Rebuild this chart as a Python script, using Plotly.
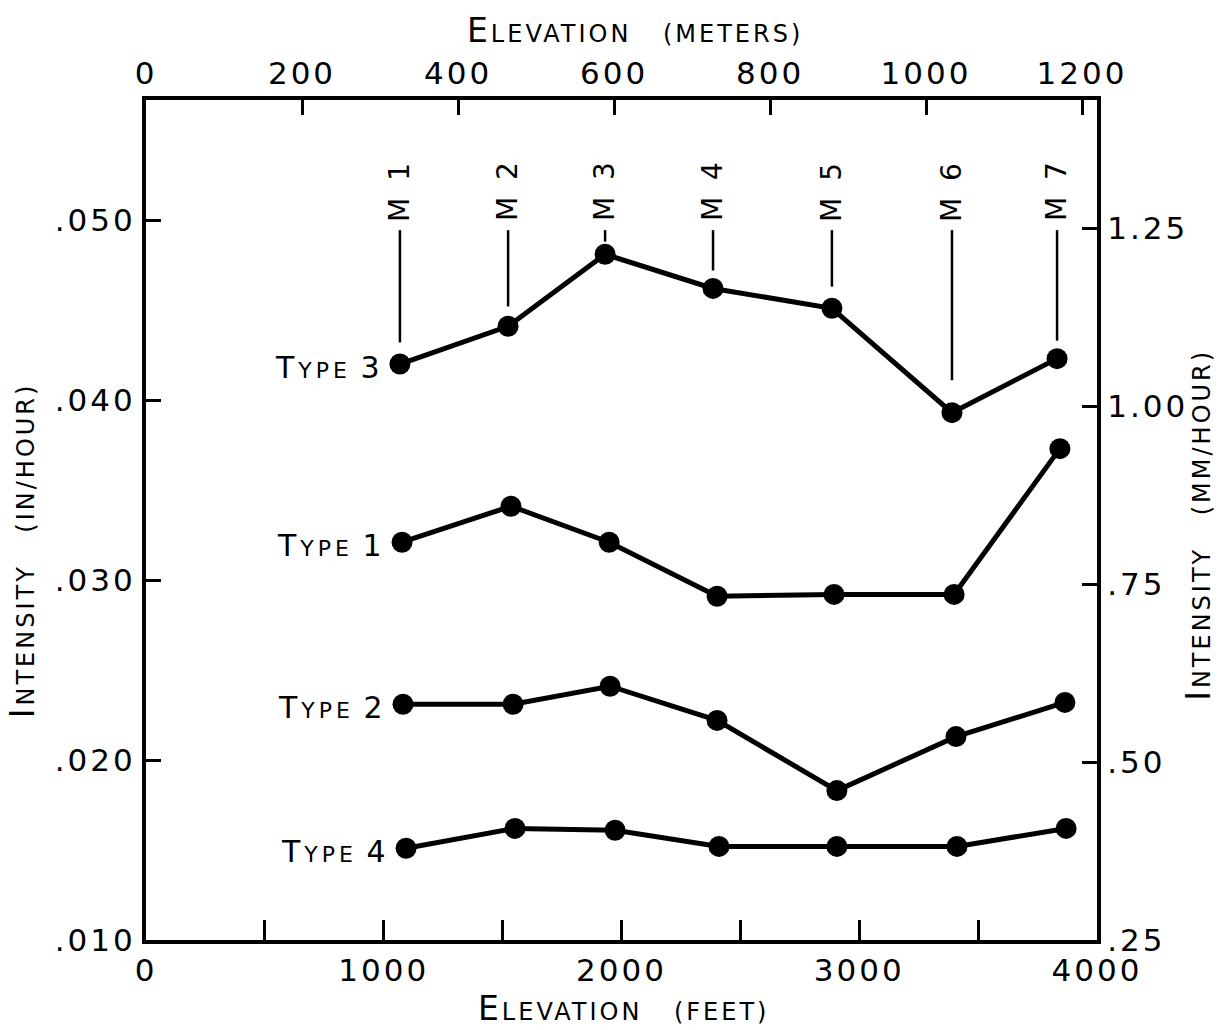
import plotly.graph_objects as go

# ---------------- data ----------------
series_names = ["Type 3", "Type 1", "Type 2", "Type 4"]

type3_ft = [1068, 1523, 1931, 2385, 2885, 3390, 3832]
type3_in = [0.0420, 0.0441, 0.0481, 0.0462, 0.0451, 0.0393, 0.0423]

type1_ft = [1077, 1535, 1948, 2402, 2894, 3399, 3844]
type1_in = [0.0321, 0.0341, 0.0321, 0.0291, 0.0292, 0.0292, 0.0373]

type2_ft = [1081, 1544, 1952, 2402, 2906, 3407, 3865]
type2_in = [0.0231, 0.0231, 0.0241, 0.0222, 0.0183, 0.0213, 0.0232]

type4_ft = [1094, 1552, 1973, 2410, 2906, 3411, 3870]
type4_in = [0.0151, 0.0162, 0.0161, 0.0152, 0.0152, 0.0152, 0.0162]

stations = ["M 1", "M 2", "M 3", "M 4", "M 5", "M 6", "M 7"]
station_ft = type3_ft
station_gap = [0.0012, 0.0011, 0.0007, 0.0010, 0.0012, 0.0018, 0.0010]

ft_ticks = [0, 500, 1000, 1500, 2000, 2500, 3000, 3500, 4000]
ft_labels = ["0", "", "1000", "", "2000", "", "3000", "", "4000"]
m_ticks = [0, 200, 400, 600, 800, 1000, 1200]
m_labels = ["0", "200", "400", "600", "800", "1000", "1200"]
in_ticks = [0.010, 0.020, 0.030, 0.040, 0.050]
in_labels = [".010", ".020", ".030", ".040", ".050"]
mm_ticks = [0.25, 0.50, 0.75, 1.00, 1.25]
mm_labels = [".25", ".50", ".75", "1.00", "1.25"]

FT_PER_M = 3.28084
X_RANGE = [0, 4000]
Y_RANGE = [0.010, 0.05667]
Y2_RANGE = [0.25, 1.43]

FONT = "DejaVu Sans"


def spaced(text, size=None, ls=3):
    st = f"letter-spacing:{ls}px"
    if size:
        st += f";font-size:{size}px"
    return f"<span style='{st}'>{text}</span>"


def small_caps(text, big, small, ls=3, gap="&#160;"):
    """Small caps: initial capital (and digits) large, the rest small."""
    out = []
    for word in text.split(" "):
        if word[0].isalpha() and word[0].isupper():
            out.append(spaced(word[0], big, ls) + spaced(word[1:].upper(), small, ls))
        elif word[0].isdigit():
            out.append(spaced(word, big, ls))
        else:
            out.append(spaced(word.upper(), small, ls))
    return gap.join(out)


def tick_text(labels, ls=3):
    return [spaced(t, None, ls) if t else "" for t in labels]


fig = go.Figure()

all_series = [(type3_ft, type3_in), (type1_ft, type1_in), (type2_ft, type2_in), (type4_ft, type4_in)]
for name, (xs, ys) in zip(series_names, all_series):
    fig.add_trace(go.Scatter(
        x=xs, y=ys, mode="lines+markers", name=name,
        line=dict(color="black", width=5),
        marker=dict(color="black", size=21),
        showlegend=False,
    ))
    fig.add_annotation(
        x=xs[0], y=ys[0], xref="x", yref="y",
        text=small_caps(name, 30, 22, ls=4), showarrow=False,
        xanchor="right", yanchor="middle", xshift=-14, yshift=-3,
        font=dict(family=FONT, size=30, color="black"),
    )

# helper traces so the secondary axes are drawn
fig.add_trace(go.Scatter(x=[], y=[], xaxis="x2", yaxis="y", showlegend=False))
fig.add_trace(go.Scatter(x=[], y=[], xaxis="x", yaxis="y2", showlegend=False))

# station labels and leader lines
label_y = 0.05167
line_top = 0.04944
for st, sx, sy, gap in zip(stations, station_ft, type3_in, station_gap):
    fig.add_annotation(
        x=sx, y=label_y, xref="x", yref="y", text=spaced(st, None, 4), showarrow=False,
        textangle=-90, xanchor="center", yanchor="middle",
        font=dict(family=FONT, size=28, color="black"),
    )
    fig.add_shape(type="line", xref="x", yref="y", x0=sx, x1=sx,
                  y0=line_top, y1=sy + gap, line=dict(color="black", width=2.5))

# axis titles
TBIG, TSMALL = 33, 24
title_font = dict(family=FONT, size=TBIG, color="black")
fig.add_annotation(x=0.514, y=1.083, xref="paper", yref="paper", xanchor="center", yanchor="middle",
                   text=small_caps("Elevation (meters)", TBIG, TSMALL, gap="&#160;&#160;&#160;"),
                   showarrow=False, font=title_font)
fig.add_annotation(x=0.502, y=-0.082, xref="paper", yref="paper", xanchor="center", yanchor="middle",
                   text=small_caps("Elevation (feet)", TBIG, TSMALL, gap="&#160;&#160;&#160;"),
                   showarrow=False, font=title_font)
fig.add_annotation(x=-0.1304, y=0.464, xref="paper", yref="paper", textangle=-90,
                   xanchor="center", yanchor="middle",
                   text=small_caps("Intensity (in/hour)", TBIG, TSMALL, gap="&#160;&#160;&#160;"),
                   showarrow=False, font=title_font)
fig.add_annotation(x=1.106, y=0.494, xref="paper", yref="paper", textangle=-90,
                   xanchor="center", yanchor="middle",
                   text=small_caps("Intensity (mm/hour)", TBIG, TSMALL, gap="&#160;&#160;&#160;"),
                   showarrow=False, font=title_font)

tickfont = dict(family=FONT, size=31, color="black")
common = dict(showline=True, linecolor="black", linewidth=4, showgrid=False,
              zeroline=False, ticks="inside", tickcolor="black", tickwidth=2.5,
              tickfont=tickfont, tickmode="array")

fig.update_layout(
    width=1219, height=1030,
    margin=dict(l=146, r=122, t=100, b=90),
    paper_bgcolor="white", plot_bgcolor="white",
    showlegend=False,
    xaxis=dict(range=X_RANGE, tickvals=ft_ticks, ticktext=tick_text(ft_labels), ticklen=20, **common),
    xaxis2=dict(range=[X_RANGE[0] / FT_PER_M, X_RANGE[1] / FT_PER_M], overlaying="x", side="top",
                anchor="y", tickvals=m_ticks, ticktext=tick_text(m_labels), ticklen=15, **common),
    yaxis=dict(range=Y_RANGE, tickvals=in_ticks, ticktext=tick_text(in_labels), ticklen=15, **common),
    yaxis2=dict(range=Y2_RANGE, overlaying="y", side="right", anchor="x",
                tickvals=mm_ticks, ticktext=tick_text(mm_labels), ticklen=15, **common),
)

fig.write_html(
    "out.html",
    config={"displayModeBar": False},
    post_script="document.body.style.margin='0';document.body.style.overflow='hidden';",
)
